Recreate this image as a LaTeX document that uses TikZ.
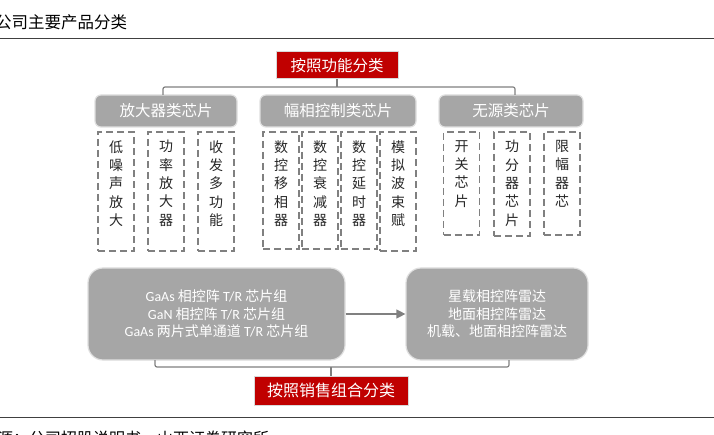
\documentclass[tikz,border=0pt]{standalone}
\usepackage{fontspec}
\setmainfont{Noto Sans CJK SC}
\newfontfamily\lat{Carlito}
\usetikzlibrary{arrows.meta,calc}
\definecolor{redc}{HTML}{C00000}
\definecolor{grayf}{HTML}{A6A6A6}
\definecolor{lineg}{HTML}{808080}
\definecolor{rulec}{HTML}{404040}
\begin{document}
\begin{tikzpicture}[x=1pt,y=-1pt,
  redbox/.style={fill=redc, draw=gray!30, line width=1pt, text=white, inner sep=0pt},
  headbox/.style={fill=grayf, draw=gray!25, line width=1.2pt, rounded corners=6pt, text=white,
    font=\fontsize{15.5}{18}\selectfont, minimum height=32pt, inner sep=0pt},
  chipbox/.style={draw=lineg, dash pattern=on 7pt off 4pt, line width=1.6pt,
    minimum width=36pt, inner sep=0pt},
  chiptext/.style={anchor=north, inner sep=0pt, align=center, text=black!85,
    font=\fontsize{14}{18.3}\selectfont, yshift=-9pt},
  bigbox/.style={fill=grayf, draw=gray!25, line width=1.2pt, rounded corners=15pt, text=white,
    align=center, font=\fontsize{14}{17.5}\selectfont, minimum height=92pt, inner sep=0pt},
  conn/.style={draw=lineg, line width=1.2pt, rounded corners=2pt},
  rule/.style={draw=rulec, line width=1pt}]
\useasboundingbox (0,0) rectangle (714,435);
\clip (0,0) rectangle (714,435);

% title and rules
\node[anchor=west, inner sep=0pt, font=\fontsize{16.5}{20}\selectfont] (title) at (-5,22) {公司主要产品分类};
\coordinate (r1a) at (0,39); \coordinate (r1b) at (714,39);
\coordinate (r2a) at (0,417); \coordinate (r2b) at (714,417);
\draw[rule] (r1a) -- (r1b);
\draw[rule] (r2a) -- (r2b);
\node[anchor=west, inner sep=0pt, font=\fontsize{16}{20}\selectfont] (src) at (-3,439) {源：公司招股说明书，山西证券研究所};

% top classification
\node[redbox, minimum width=122pt, minimum height=27pt, font=\fontsize{15.5}{18}\selectfont] (ftop) at (337,65.5) {按照功能分类};

\node[headbox, minimum width=142pt] (h1) at (166,111) {放大器类芯片};
\node[headbox, minimum width=156pt] (h2) at (338,111) {幅相控制类芯片};
\node[headbox, minimum width=144pt] (h3) at (511,111) {无源类芯片};

\coordinate (hL) at (163,95);
\coordinate (hR) at (515,95);
\draw[conn] (hL) -- ++(0,-8) -| (hR);
\draw[conn] (ftop.south) -- ++(0,8);

% amplifier chips
\node[chipbox, minimum height=119pt] (c11) at (116,191.5) {};
\node[chiptext] at (c11.north) {低\\噪\\声\\放\\大};
\node[chipbox, minimum height=119pt] (c12) at (166,191.5) {};
\node[chiptext] at (c12.north) {功\\率\\放\\大\\器};
\node[chipbox, minimum height=119pt] (c13) at (216,191.5) {};
\node[chiptext] at (c13.north) {收\\发\\多\\功\\能};

% amplitude/phase control chips
\node[chipbox, minimum height=117pt] (c21) at (281,190.5) {};
\node[chiptext] at (c21.north) {数\\控\\移\\相\\器};
\node[chipbox, minimum height=117pt] (c22) at (320,190.5) {};
\node[chiptext] at (c22.north) {数\\控\\衰\\减\\器};
\node[chipbox, minimum height=117pt] (c23) at (359,190.5) {};
\node[chiptext] at (c23.north) {数\\控\\延\\时\\器};
\node[chipbox, minimum height=119pt] (c24) at (398,191.5) {};
\node[chiptext] at (c24.north) {模\\拟\\波\\束\\赋};

% passive chips
\node[chipbox, minimum height=103pt] (c31) at (461.5,183.5) {};
\node[chiptext] at (c31.north) {开\\关\\芯\\片};
\node[chipbox, minimum height=104pt] (c32) at (512,184) {};
\node[chiptext] at (c32.north) {功\\分\\器\\芯\\片};
\node[chipbox, minimum height=103pt] (c33) at (562,183.5) {};
\node[chiptext] at (c33.north) {限\\幅\\器\\芯};

% sales combination
\node[bigbox, minimum width=257pt] (b1) at (216.5,314) {{\lat GaAs} 相控阵 {\lat T/R} 芯片组\\{\lat GaN} 相控阵 {\lat T/R} 芯片组\\{\lat GaAs} 两片式单通道 {\lat T/R} 芯片组};
\node[bigbox, minimum width=182pt] (b2) at (497,314) {星载相控阵雷达\\地面相控阵雷达\\机载、地面相控阵雷达};
\draw[draw=lineg, line width=1.2pt, -{Triangle[length=9pt,width=9pt]}] (b1.east) -- (b2.west);

\node[redbox, minimum width=154pt, minimum height=29pt, font=\fontsize{16}{19}\selectfont] (fbot) at (331,390.5) {按照销售组合分类};
\coordinate (bL) at (155,360);
\coordinate (bR) at (509,360);
\draw[conn] (bL) -- ++(0,7) -| (bR);
\draw[conn] (fbot.north) -- ++(0,-9);
\end{tikzpicture}
\end{document}
